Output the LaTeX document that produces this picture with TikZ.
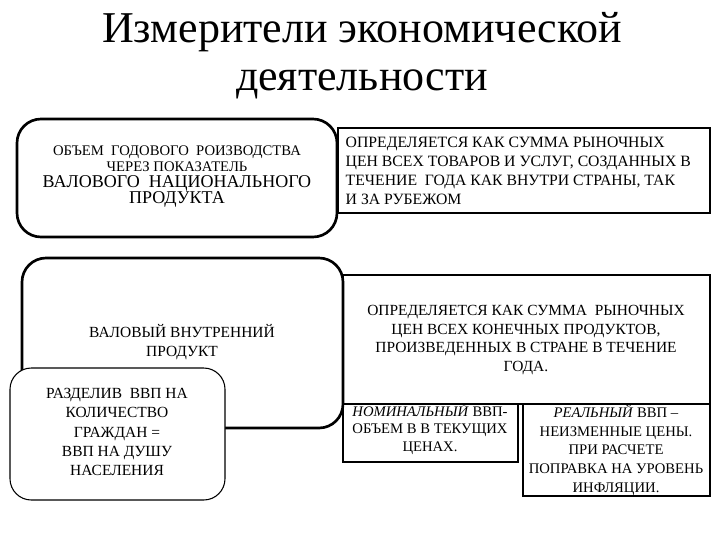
\documentclass[tikz,border=0pt]{standalone}
\usepackage{fontspec}
\setmainfont{Liberation Serif}
\begin{document}
\begin{tikzpicture}[x=0.75pt,y=-0.75pt,
  rbox/.style={draw,line width=2pt,rounded corners=18pt},
  sbox/.style={draw,line width=1.6pt},
  txt/.style={align=center,font=\fontsize{11.6}{14.2}\selectfont},
  ltxt/.style={align=left,font=\fontsize{11.8}{14.2}\selectfont}]
\useasboundingbox (0,0) rectangle (720,540);
\node[font=\fontsize{33}{36}\selectfont,align=center] (title) at (362,56) {Измерители экономической\\деятельности};
% right boxes first
\draw[sbox] (338,128) rectangle (710,213);
\node[ltxt,anchor=west] (t2) at (341,171) {ОПРЕДЕЛЯЕТСЯ КАК СУММА РЫНОЧНЫХ\\ЦЕН ВСЕХ ТОВАРОВ И УСЛУГ, СОЗДАННЫХ В\\ТЕЧЕНИЕ \ ГОДА КАК ВНУТРИ СТРАНЫ, ТАК\\И ЗА РУБЕЖОМ};
\draw[sbox] (343,275) rectangle (710,404);
\node[txt] (t4) at (526,340) {ОПРЕДЕЛЯЕТСЯ КАК СУММА \ РЫНОЧНЫХ\\ЦЕН ВСЕХ КОНЕЧНЫХ ПРОДУКТОВ,\\ПРОИЗВЕДЕННЫХ В СТРАНЕ В ТЕЧЕНИЕ\\ГОДА.};
\draw[sbox] (343,404) rectangle (518,462);
\node[txt,font=\fontsize{11}{13}\selectfont] (t6) at (430,429) {\textit{НОМИНАЛЬНЫЙ} ВВП-\\ОБЪЕМ В В ТЕКУЩИХ\\ЦЕНАХ.};
\draw[sbox] (523,404) rectangle (710,496);
\node[txt,font=\fontsize{11}{14}\selectfont] (t7) at (616,450) {\textit{РЕАЛЬНЫЙ} ВВП –\\НЕИЗМЕННЫЕ ЦЕНЫ.\\ПРИ РАСЧЕТЕ\\ПОПРАВКА НА УРОВЕНЬ\\ИНФЛЯЦИИ.};
% left boxes
\draw[rbox,fill=white] (17,119) rectangle (337,237);
\node[align=center] (t1) at (177,177) {\fontsize{11}{13}\selectfont ОБЪЕМ \ ГОДОВОГО \ РОИЗВОДСТВА\\\fontsize{11}{14}\selectfont ЧЕРЕЗ ПОКАЗАТЕЛЬ\\\fontsize{13.5}{17}\selectfont ВАЛОВОГО \ НАЦИОНАЛЬНОГО\\\fontsize{13.5}{17}\selectfont ПРОДУКТА};
\draw[rbox,fill=white] (22,258) rectangle (343,428);
\node[txt] (t3) at (182,342) {ВАЛОВЫЙ ВНУТРЕННИЙ\\ПРОДУКТ};
\draw[draw,line width=0.8pt,rounded corners=16pt,fill=white] (10,368) rectangle (225,500);
\node[txt,font=\fontsize{11.6}{14.5}\selectfont] (t5) at (117,432) {РАЗДЕЛИВ \ ВВП НА\\КОЛИЧЕСТВО\\ГРАЖДАН =\\ВВП НА ДУШУ\\НАСЕЛЕНИЯ};
\end{tikzpicture}
\end{document}
